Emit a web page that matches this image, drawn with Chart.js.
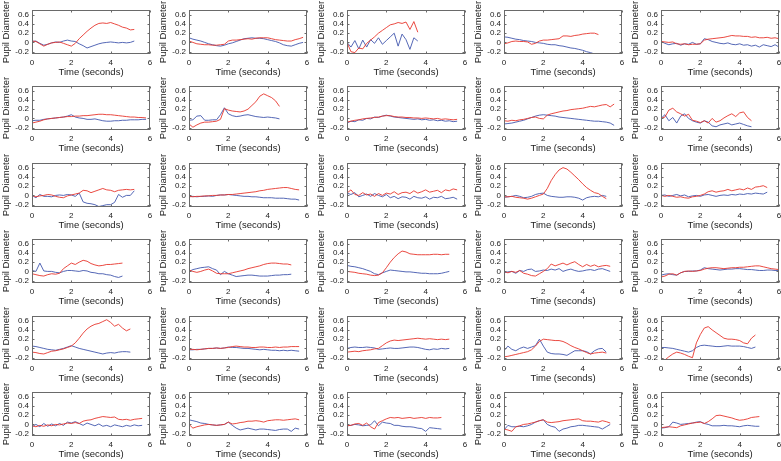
<!DOCTYPE html>
<html>
<head>
<meta charset="utf-8">
<script src="https://cdn.jsdelivr.net/npm/chart.js@4.4.1/dist/chart.umd.min.js"></script>
<style>
  body { margin: 0; background: #fff; }
  #fig { position: relative; width: 781px; height: 461px; overflow: hidden; }
  #fig canvas { position: absolute; }
</style>
</head>
<body>
<div id="fig"></div>
<script>
// sample times (seconds) shared by every trace; a trace uses as many as it has values
const sampleTimes = [0, 0.2, 0.4, 0.6, 0.8, 1, 1.2, 1.4, 1.6, 1.8, 2, 2.2, 2.4, 2.6, 2.8, 3,
  3.2, 3.4, 3.6, 3.8, 4, 4.2, 4.4, 4.6, 4.8, 5, 5.2, 5.4, 5.6, 5.8, 6];
const xTicks = [0, 2, 4, 6];
const yTicks = [-0.2, 0, 0.2, 0.4, 0.6];

// row 1
const red11 = [0.03,0.02,-0.03,-0.08,-0.04,-0.01,0.0,0.01,-0.02,-0.05,-0.08,-0.02,0.08,0.16,0.24,0.31,0.37,0.41,0.42,0.41,0.43,0.40,0.37,0.33,0.31,0.27,0.28];
const blue11 = [0.02,0.03,-0.02,-0.06,-0.04,-0.01,0.01,0.0,0.03,0.05,0.03,0.02,-0.03,-0.07,-0.12,-0.09,-0.06,-0.03,-0.01,0.0,0.01,0.0,-0.01,0.0,-0.01,0.0,0.03];
const red12 = [0.03,0.0,-0.03,-0.04,-0.05,-0.05,-0.06,-0.06,-0.05,-0.04,0.03,0.05,0.05,0.06,0.07,0.08,0.07,0.09,0.1,0.1,0.1,0.08,0.06,0.05,0.04,0.03,0.03,0.06,0.08,0.11];
const blue12 = [0.1,0.07,0.05,0.03,0.0,-0.03,-0.05,-0.07,-0.08,-0.06,-0.03,-0.01,0.02,0.05,0.08,0.09,0.1,0.09,0.09,0.08,0.06,0.04,0.02,-0.01,-0.05,-0.07,-0.08,-0.05,-0.02,0.0];
const red13 = [0.0,-0.2,-0.22,-0.12,-0.14,-0.02,0.05,0.12,0.2,0.26,0.32,0.38,0.4,0.43,0.41,0.44,0.28,0.45,0.22];
const blue13 = [0.0,-0.1,0.04,-0.14,0.05,-0.1,0.06,-0.02,0.1,-0.04,0.04,0.12,0.2,-0.08,0.18,0.06,-0.15,0.1,0.03];
const red14 = [-0.03,-0.01,0.02,0.03,0.02,0.02,0.01,-0.04,-0.02,0.03,0.05,0.05,0.06,0.07,0.08,0.14,0.14,0.13,0.15,0.16,0.18,0.19,0.2,0.2,0.17];
const blue14 = [0.12,0.11,0.09,0.07,0.06,0.04,0.03,0.02,0.0,-0.01,-0.02,-0.04,-0.05,-0.05,-0.07,-0.08,-0.1,-0.12,-0.13,-0.15,-0.17,-0.2,-0.22,-0.25,-0.27];
const red15 = [0.02,0.01,0.0,0.01,-0.03,-0.04,-0.03,-0.05,-0.04,-0.04,-0.03,0.05,0.07,0.08,0.09,0.1,0.11,0.13,0.15,0.14,0.14,0.13,0.13,0.11,0.12,0.1,0.1,0.11,0.09,0.1,0.08];
const blue15 = [0.02,-0.02,-0.05,-0.03,-0.02,-0.06,-0.03,-0.04,0.0,-0.04,-0.03,0.08,0.06,0.02,0.0,-0.02,-0.03,-0.01,-0.04,-0.05,-0.03,-0.06,-0.05,-0.08,-0.06,-0.1,-0.05,-0.07,-0.09,-0.05,-0.1];

// row 2
const red21 = [-0.1,-0.08,-0.06,-0.03,-0.01,0.0,0.01,0.02,0.03,0.04,0.04,0.05,0.05,0.06,0.06,0.07,0.08,0.09,0.09,0.08,0.08,0.07,0.06,0.05,0.04,0.03,0.03,0.02,0.02,0.01];
const blue21 = [-0.05,-0.04,-0.04,-0.02,-0.01,0.0,0.01,0.02,0.03,0.05,0.08,0.03,0.01,0.0,-0.02,-0.02,-0.01,-0.03,-0.05,-0.06,-0.06,-0.05,-0.05,-0.04,-0.04,-0.03,-0.03,-0.03,-0.02,-0.02];
const red22 = [-0.12,-0.19,-0.14,-0.1,-0.08,-0.08,-0.07,-0.06,-0.02,0.21,0.18,0.16,0.15,0.14,0.16,0.2,0.28,0.36,0.48,0.53,0.49,0.45,0.38,0.26];
const blue22 = [-0.04,-0.03,0.05,0.06,-0.04,-0.04,-0.03,-0.03,0.08,0.23,0.1,0.06,0.04,0.05,0.07,0.08,0.06,0.04,0.03,0.02,0.03,0.02,0.01,-0.01];
const red23 = [-0.08,-0.06,-0.04,-0.03,-0.01,0.0,0.01,0.02,0.03,0.05,0.06,0.06,0.04,0.03,0.03,0.02,0.02,0.01,0.01,0.0,0.01,0.0,-0.01,0.0,-0.02,-0.01,-0.02,-0.03,-0.02];
const blue23 = [-0.1,-0.06,-0.07,-0.03,-0.04,0.0,-0.01,0.03,0.02,0.05,0.07,0.05,0.03,0.02,0.01,0.0,-0.01,-0.02,-0.01,-0.03,-0.02,-0.04,-0.03,-0.05,-0.04,-0.06,-0.05,-0.07,-0.06];
const red24 = [-0.05,-0.06,-0.04,-0.05,-0.03,-0.02,0.0,0.02,0.03,0.0,-0.01,0.07,0.1,0.12,0.14,0.16,0.17,0.19,0.2,0.21,0.22,0.24,0.26,0.25,0.27,0.29,0.3,0.25,0.31];
const blue24 = [-0.12,-0.11,-0.1,-0.08,-0.06,-0.04,-0.01,0.02,0.05,0.07,0.08,0.07,0.06,0.05,0.03,0.02,0.01,0.0,-0.01,-0.02,-0.03,-0.04,-0.05,-0.06,-0.06,-0.07,-0.08,-0.1,-0.15];
const red25 = [0.0,0.03,0.18,0.22,0.14,0.1,0.05,0.09,-0.04,-0.06,-0.09,-0.05,-0.1,0.0,-0.08,-0.05,0.01,0.06,0.1,0.04,0.12,0.14,0.02,-0.05];
const blue25 = [0.0,0.08,-0.05,0.02,-0.1,0.05,0.1,0.0,-0.05,-0.08,-0.1,-0.05,-0.08,-0.16,-0.18,-0.14,-0.12,-0.1,-0.14,-0.12,-0.1,-0.13,-0.16,-0.18];

// row 3
const red31 = [0.0,-0.03,-0.01,0.0,0.02,0.01,-0.02,-0.04,-0.05,-0.01,0.01,0.03,0.05,0.11,0.1,0.06,0.09,0.12,0.15,0.12,0.11,0.08,0.11,0.12,0.13,0.12,0.13];
const blue31 = [0.0,-0.05,0.02,-0.02,-0.02,-0.03,0.0,0.01,0.0,0.02,0.01,-0.02,0.05,-0.14,-0.17,-0.18,-0.2,-0.24,-0.22,-0.2,-0.2,-0.15,0.02,-0.04,0.0,0.0,0.1];
const red32 = [-0.02,-0.03,-0.02,-0.02,-0.01,-0.01,0.0,0.0,0.01,0.01,0.02,0.02,0.03,0.04,0.05,0.06,0.07,0.08,0.1,0.11,0.13,0.14,0.15,0.16,0.17,0.17,0.15,0.13,0.12];
const blue32 = [-0.03,-0.02,-0.03,-0.02,-0.02,-0.01,-0.02,0.0,0.01,0.01,0.02,0.01,0.0,-0.01,-0.02,-0.02,-0.03,-0.03,-0.04,-0.05,-0.05,-0.05,-0.06,-0.06,-0.06,-0.07,-0.08,-0.08,-0.1];
const red33 = [0.05,0.12,0.02,0.0,0.06,0.01,0.03,-0.02,0.04,0.0,0.05,0.03,0.08,0.02,0.06,0.07,0.04,0.1,0.05,0.08,0.12,0.07,0.09,0.11,0.06,0.12,0.1,0.14,0.12];
const blue33 = [0.05,0.02,0.06,-0.03,0.0,0.03,-0.02,0.04,0.0,-0.03,0.02,-0.05,-0.02,-0.07,-0.03,-0.04,-0.08,-0.02,-0.05,-0.06,-0.03,-0.08,-0.04,-0.05,-0.02,-0.07,-0.06,-0.04,-0.08];
const red34 = [-0.03,-0.03,-0.02,-0.04,-0.05,-0.06,-0.08,-0.06,-0.03,0.0,0.03,0.15,0.32,0.45,0.55,0.6,0.57,0.5,0.42,0.34,0.25,0.17,0.11,0.06,0.04,-0.02,-0.07];
const blue34 = [-0.04,-0.03,-0.02,0.0,-0.02,-0.05,-0.04,-0.02,0.02,0.04,0.05,0.0,-0.02,-0.03,-0.04,-0.04,-0.03,-0.03,-0.04,-0.06,-0.1,-0.05,-0.03,-0.02,-0.03,0.0,-0.02];
const red35 = [0.0,-0.02,0.0,-0.02,-0.04,-0.03,-0.05,-0.06,-0.03,-0.02,0.0,0.03,0.08,0.1,0.07,0.09,0.1,0.13,0.1,0.12,0.14,0.12,0.16,0.13,0.18,0.19,0.21,0.17];
const blue35 = [0.0,0.01,-0.02,0.0,0.02,-0.01,0.01,-0.03,-0.01,0.0,-0.02,0.01,0.02,0.0,-0.02,0.0,0.01,0.0,0.02,0.01,0.03,0.02,0.04,0.03,0.05,0.04,0.03,0.07];

// row 4
const red41 = [-0.05,-0.07,-0.09,-0.1,-0.07,-0.05,-0.06,-0.04,0.06,0.12,0.18,0.15,0.2,0.24,0.22,0.17,0.14,0.12,0.13,0.15,0.15,0.16,0.17,0.18];
const blue41 = [0.02,0.0,0.18,0.01,0.0,0.0,-0.02,-0.03,0.0,0.02,0.02,0.01,0.0,0.02,0.01,-0.02,-0.03,-0.05,-0.05,-0.07,-0.08,-0.11,-0.13,-0.1];
const red42 = [0.03,0.0,-0.02,0.0,0.03,0.05,0.01,-0.04,-0.05,-0.05,-0.05,-0.03,-0.01,0.01,0.03,0.06,0.08,0.1,0.12,0.15,0.17,0.18,0.18,0.17,0.16,0.16,0.14];
const blue42 = [0.0,0.04,0.06,0.08,0.09,0.1,0.06,0.03,-0.07,0.0,-0.05,-0.08,-0.11,-0.1,-0.09,-0.08,-0.08,-0.09,-0.1,-0.1,-0.1,-0.09,-0.08,-0.08,-0.07,-0.07,-0.06];
const red43 = [0.0,-0.01,-0.02,-0.04,-0.05,-0.06,-0.08,-0.09,-0.08,-0.03,0.08,0.2,0.3,0.38,0.44,0.42,0.38,0.37,0.36,0.36,0.36,0.36,0.37,0.37,0.36,0.37,0.37];
const blue43 = [0.13,0.11,0.1,0.08,0.06,0.03,0.0,-0.05,-0.07,-0.03,0.0,0.03,0.02,0.01,0.0,-0.01,-0.01,-0.02,-0.03,-0.04,-0.04,-0.05,-0.05,-0.05,-0.04,-0.02,0.0];
const red44 = [0.0,-0.03,0.0,-0.02,0.02,-0.04,-0.06,-0.09,-0.1,-0.05,0.0,0.06,0.16,0.12,0.15,0.18,0.14,0.18,0.21,0.15,0.1,0.15,0.11,0.14,0.1,0.12,0.13,0.11];
const blue44 = [-0.03,-0.01,0.0,-0.04,0.02,0.0,0.04,0.05,0.0,0.01,0.03,0.02,0.05,0.03,0.06,0.0,0.03,0.05,0.02,0.0,0.01,0.03,0.04,0.02,0.05,0.06,0.03,0.0];
const red45 = [-0.12,-0.1,-0.06,-0.05,-0.08,-0.03,0.0,0.01,0.0,0.01,0.02,0.05,0.07,0.08,0.08,0.07,0.06,0.07,0.08,0.08,0.09,0.09,0.1,0.11,0.12,0.12,0.1,0.08,0.06,0.05,0.04];
const blue45 = [-0.08,-0.06,-0.05,-0.07,-0.08,-0.03,0.0,0.0,0.01,0.01,0.03,0.08,0.06,0.05,0.04,0.03,0.04,0.05,0.05,0.06,0.06,0.05,0.04,0.04,0.03,0.02,0.02,0.03,0.03,0.02,0.02];

// row 5
const red51 = [-0.08,-0.09,-0.11,-0.12,-0.09,-0.06,-0.05,-0.03,-0.01,0.02,0.05,0.12,0.22,0.33,0.42,0.48,0.52,0.54,0.58,0.62,0.56,0.48,0.52,0.44,0.38,0.42];
const blue51 = [0.05,0.04,0.02,0.0,-0.02,-0.03,-0.04,-0.02,0.0,0.03,0.06,0.03,0.0,-0.02,-0.04,-0.06,-0.08,-0.1,-0.12,-0.1,-0.09,-0.1,-0.08,-0.07,-0.07,-0.08];
const red52 = [-0.02,-0.02,-0.03,-0.02,-0.01,0.0,0.0,0.01,0.0,0.01,0.02,0.04,0.05,0.04,0.03,0.03,0.02,0.02,0.03,0.03,0.02,0.02,0.03,0.02,0.03,0.03,0.04,0.04,0.04];
const blue52 = [-0.03,-0.03,-0.02,-0.02,-0.01,0.0,0.0,0.01,0.0,0.01,0.03,0.02,0.02,0.01,0.0,0.0,-0.01,-0.02,-0.03,-0.02,-0.03,-0.04,-0.04,-0.05,-0.04,-0.05,-0.04,-0.05,-0.06];
const red53 = [-0.08,-0.07,-0.06,-0.07,-0.05,-0.04,-0.03,-0.01,0.0,0.06,0.12,0.16,0.18,0.17,0.18,0.19,0.2,0.21,0.22,0.21,0.2,0.21,0.2,0.19,0.2,0.19,0.2];
const blue53 = [0.0,0.02,0.03,0.02,0.02,0.03,0.02,0.01,-0.02,-0.01,0.0,0.01,0.0,0.0,0.01,0.02,0.03,0.03,0.02,0.0,-0.02,-0.03,-0.01,-0.02,0.0,-0.01,0.0];
const red54 = [-0.18,-0.17,-0.15,-0.13,-0.11,-0.09,-0.07,-0.03,0.05,0.15,0.2,0.19,0.18,0.17,0.17,0.15,0.11,0.06,0.02,-0.01,-0.05,-0.09,-0.12,-0.1,-0.09,-0.08,-0.1];
const blue54 = [-0.05,0.05,-0.02,-0.05,0.0,0.03,0.0,0.03,0.06,0.2,0.05,-0.08,-0.11,-0.12,-0.12,-0.13,-0.15,-0.1,-0.05,-0.05,-0.05,-0.07,-0.12,-0.05,-0.01,0.0,-0.08];
const red55 = [-0.2,-0.25,-0.18,-0.12,-0.08,-0.1,-0.13,-0.17,-0.2,0.12,0.3,0.44,0.47,0.4,0.34,0.28,0.22,0.2,0.2,0.19,0.17,0.12,0.1,0.22,0.29];
const blue55 = [0.02,0.02,0.01,0.0,-0.02,-0.04,-0.06,-0.08,-0.05,0.02,0.06,0.07,0.06,0.05,0.04,0.04,0.05,0.06,0.05,0.05,0.05,0.04,0.02,0.0,0.03];

// row 6
const red61 = [-0.03,-0.05,-0.02,-0.04,-0.01,-0.03,0.0,-0.01,0.01,0.03,0.02,0.04,0.02,0.07,0.09,0.1,0.13,0.15,0.17,0.16,0.15,0.16,0.11,0.1,0.11,0.09,0.11,0.12,0.13];
const blue61 = [-0.05,0.0,-0.05,0.02,-0.04,0.01,-0.03,0.02,-0.02,0.05,0.03,0.06,0.02,-0.02,0.03,0.0,-0.03,0.01,-0.04,-0.02,-0.05,-0.01,-0.03,-0.05,-0.02,-0.04,-0.01,-0.03,-0.02];
const red62 = [0.0,-0.08,-0.05,-0.03,-0.01,0.0,-0.01,-0.02,-0.01,0.0,0.05,0.01,0.02,0.04,0.05,0.07,0.07,0.08,0.07,0.05,0.08,0.09,0.1,0.1,0.09,0.1,0.11,0.12,0.1];
const blue62 = [0.1,0.08,0.06,0.03,0.02,0.0,-0.01,-0.02,-0.01,0.0,0.05,-0.02,-0.08,-0.12,-0.1,-0.08,-0.1,-0.12,-0.1,-0.1,-0.11,-0.12,-0.13,-0.11,-0.1,-0.1,-0.15,-0.08,-0.1];
const red63 = [-0.03,-0.02,0.01,0.02,-0.02,0.03,-0.05,-0.1,0.04,0.08,0.12,0.15,0.14,0.15,0.13,0.14,0.15,0.13,0.14,0.15,0.13,0.15,0.14,0.14,0.15];
const blue63 = [-0.03,-0.02,0.0,-0.01,-0.03,-0.02,-0.01,0.08,-0.03,0.05,0.03,0.02,-0.02,-0.02,-0.04,-0.05,-0.05,-0.06,-0.08,-0.09,-0.15,-0.07,-0.08,-0.09,-0.1];
const red64 = [-0.1,-0.12,-0.15,-0.05,-0.03,0.0,0.01,0.03,0.05,0.08,0.1,0.05,0.04,0.05,0.06,0.08,0.09,0.1,0.11,0.12,0.08,0.07,0.07,0.06,0.05,0.08,0.06,0.03];
const blue64 = [-0.12,-0.02,-0.05,-0.05,-0.04,-0.05,-0.03,0.0,0.05,0.08,0.1,0.0,-0.04,-0.06,-0.15,-0.1,-0.08,-0.05,-0.04,-0.02,-0.02,-0.03,-0.04,-0.05,-0.06,-0.1,-0.05,0.0];
const red65 = [-0.07,-0.06,-0.05,-0.06,-0.07,-0.03,-0.01,0.01,0.03,0.04,0.05,0.02,0.06,0.12,0.19,0.2,0.18,0.16,0.14,0.11,0.09,0.1,0.12,0.15,0.16,0.17];
const blue65 = [-0.08,-0.07,-0.05,0.05,0.03,0.0,0.01,0.02,0.03,0.05,0.06,0.02,0.0,-0.03,-0.03,-0.03,-0.02,-0.03,-0.03,-0.04,-0.05,-0.03,-0.02,-0.03,-0.04,-0.04];

// [red, blue] per panel, row by row
const panels = [
  [red11, blue11], [red12, blue12], [red13, blue13], [red14, blue14], [red15, blue15],
  [red21, blue21], [red22, blue22], [red23, blue23], [red24, blue24], [red25, blue25],
  [red31, blue31], [red32, blue32], [red33, blue33], [red34, blue34], [red35, blue35],
  [red41, blue41], [red42, blue42], [red43, blue43], [red44, blue44], [red45, blue45],
  [red51, blue51], [red52, blue52], [red53, blue53], [red54, blue54], [red55, blue55],
  [red61, blue61], [red62, blue62], [red63, blue63], [red64, blue64], [red65, blue65]
];

const FONT = "'Liberation Sans', Arial, Helvetica, sans-serif";
const TEXT = '#1a1a1a';

function toPoints(vals) {
  return vals.map((v, i) => ({x: sampleTimes[i], y: v}));
}

// box round the plot with small inward ticks on all four sides
const boxPlugin = {
  id: 'box',
  afterDatasetsDraw(chart) {
    const {ctx, chartArea: a, scales} = chart;
    const l = Math.round(a.left) + 0.5, r = Math.round(a.right) - 0.5;
    const t = Math.round(a.top) + 0.5, b = Math.round(a.bottom) - 0.5;
    ctx.save();
    ctx.strokeStyle = '#6a6a6a';
    ctx.lineWidth = 1;
    ctx.strokeRect(l, t, r - l, b - t);
    ctx.beginPath();
    xTicks.forEach(v => {
      const px = Math.round(scales.x.getPixelForValue(v)) + 0.5;
      ctx.moveTo(px, b); ctx.lineTo(px, b - 2);
      ctx.moveTo(px, t); ctx.lineTo(px, t + 2);
    });
    yTicks.forEach(v => {
      const py = Math.round(scales.y.getPixelForValue(v)) + 0.5;
      ctx.moveTo(l, py); ctx.lineTo(l + 2, py);
      ctx.moveTo(r, py); ctx.lineTo(r - 2, py);
    });
    ctx.stroke();
    ctx.restore();
  }
};

const fig = document.getElementById('fig');
panels.forEach((pair, k) => {
  const row = Math.floor(k / 5), col = k % 5;
  const cv = document.createElement('canvas');
  cv.width = 157; cv.height = 80;
  cv.style.left = Math.round(col * 157.25) + 'px';
  cv.style.top = Math.round(row * 76.4) + 'px';
  fig.appendChild(cv);

  new Chart(cv, {
    type: 'line',
    data: {
      datasets: [
        {data: toPoints(pair[0]), borderColor: '#e8362c', borderWidth: 0.9},
        {data: toPoints(pair[1]), borderColor: '#4257ae', borderWidth: 0.9}
      ]
    },
    options: {
      responsive: false,
      animation: false,
      devicePixelRatio: 1,
      parsing: false,
      layout: {padding: {top: 10, right: 7, left: 0, bottom: 0}},
      elements: {point: {radius: 0}, line: {tension: 0}},
      plugins: {legend: {display: false}, tooltip: {enabled: false}},
      scales: {
        x: {
          type: 'linear', min: 0, max: 6,
          afterBuildTicks: s => { s.ticks = xTicks.map(v => ({value: v})); },
          afterFit: s => { s.height = 26; },
          grid: {display: false, drawTicks: false},
          border: {display: false},
          ticks: {font: {family: FONT, size: 8}, color: TEXT, padding: 4, maxRotation: 0,
                  autoSkip: false, callback: v => String(v)},
          title: {display: true, text: 'Time (seconds)', color: TEXT,
                  font: {family: FONT, size: 9.5}, padding: {top: 0, bottom: 2}}
        },
        y: {
          type: 'linear', min: -0.25, max: 0.7,
          afterBuildTicks: s => { s.ticks = yTicks.map(v => ({value: v})); },
          afterFit: s => { s.width = 32; },
          grid: {display: false, drawTicks: false},
          border: {display: false},
          ticks: {font: {family: FONT, size: 8}, color: TEXT, padding: 3, autoSkip: false,
                  callback: v => (v === 0 ? '0' : v.toFixed(1))},
          title: {display: true, text: 'Pupil Diameter', color: TEXT,
                  font: {family: FONT, size: 9.5}, padding: {top: 1, bottom: 0}}
        }
      }
    },
    plugins: [boxPlugin]
  });
});
</script>
</body>
</html>
